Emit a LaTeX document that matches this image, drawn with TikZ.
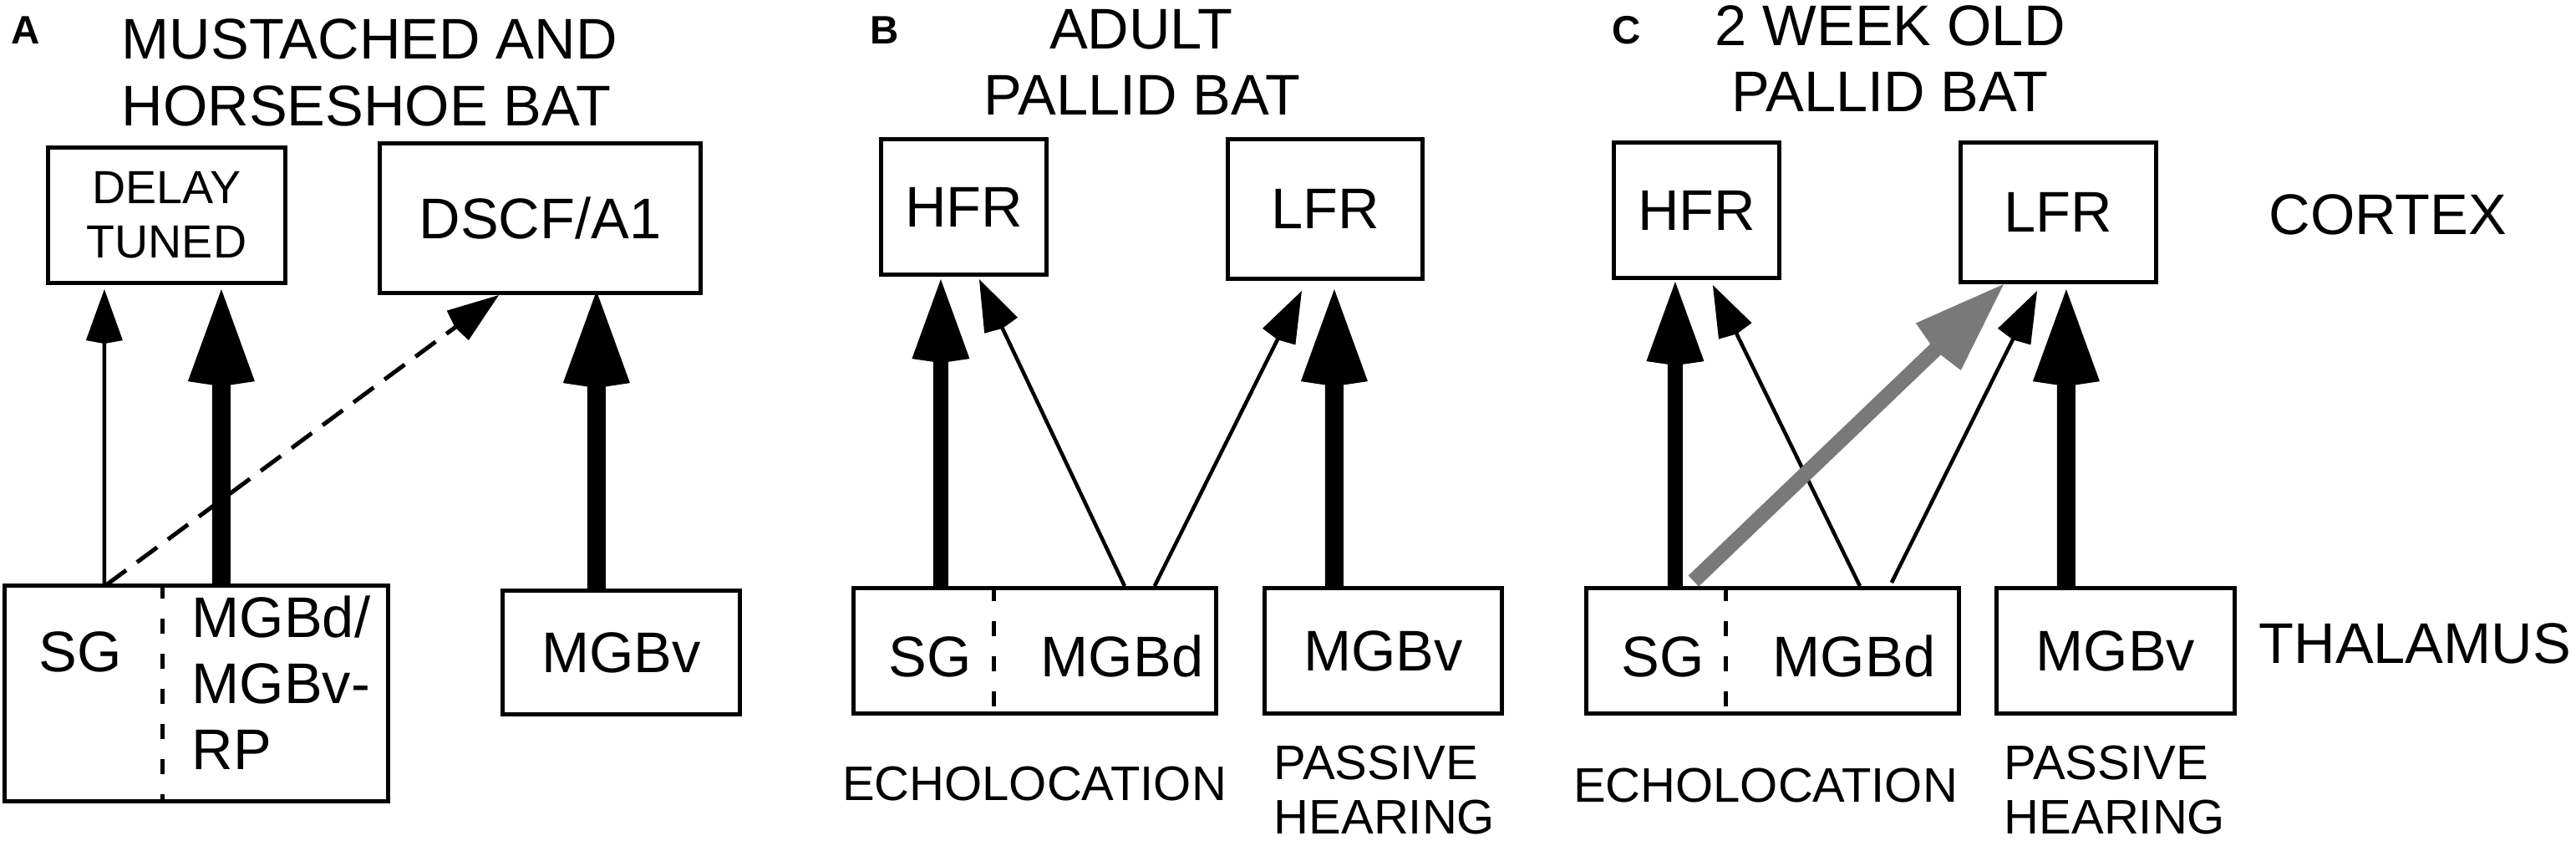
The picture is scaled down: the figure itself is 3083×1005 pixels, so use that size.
\documentclass[tikz,border=0pt]{standalone}
\usepackage{fontspec}
\setmainfont{Liberation Sans}
\usetikzlibrary{arrows.meta,calc}
\definecolor{devgray}{HTML}{797979}

\begin{document}
\begin{tikzpicture}[x=0.01cm,y=-0.01cm,
    box/.style={draw,line width=0.055cm,inner sep=0pt,font=\fontsize{19.5}{22.5}\selectfont},
    lbl/.style={inner sep=0pt,font=\fontsize{19.5}{22.5}\selectfont},
    small/.style={inner sep=0pt,font=\fontsize{16.5}{19}\selectfont},
    panel/.style={inner sep=0pt,font=\fontsize{13.5}{16}\selectfont\bfseries},
    weakarrow/.style={line width=0.045cm,-{Kite[length=0.65cm,width=0.44cm,inset=0.04cm,line width=0pt]}},
    strongarrow/.style={line width=0.22cm,-{Kite[length=1.16cm,width=0.80cm,inset=0.06cm,line width=0pt]}},
    hfrarrow/.style={line width=0.18cm,-{Kite[length=1.0cm,width=0.69cm,inset=0.05cm,line width=0pt]}},
    newarrow/.style={devgray,line width=0.18cm,-{Kite[length=1.14cm,width=0.78cm,inset=0.06cm,line width=0pt]}},
    dasharrow/.style={line width=0.05cm,dash pattern=on 0.3cm off 0.16cm,-{Kite[length=0.65cm,width=0.44cm,inset=0.04cm,line width=0pt]}},
    divider/.style={line width=0.05cm,dash pattern=on 0.18cm off 0.24cm}]
	\useasboundingbox (0,0) rectangle (3083,1005);

	%A
	\node[panel,anchor=base west] (labA) at (13,52) {A};
	\node[lbl,anchor=base west] (titA1) at (145,70) {MUSTACHED AND};
	\node[lbl,anchor=base west] (titA2) at (145,150) {HORSESHOE BAT};

	\node[box,minimum width=2.835cm,minimum height=1.615cm,align=center,font=\fontsize{15.8}{18.5}\selectfont] (dtA) at (199.5,257.5) {DELAY\\TUNED};
	\node[box,minimum width=3.835cm,minimum height=1.785cm] (dscfA) at (646.5,261) {DSCF/A1};
	\node[box,minimum width=4.585cm,minimum height=2.575cm] (thalA) at (235,829.5) {};
	\node[box,minimum width=2.835cm,minimum height=1.475cm] (mgbvA) at (743.5,780.5) {MGBv};

	\node[lbl,anchor=base] (sgA) at (96,803) {SG};
	\node[lbl,anchor=base west] (mgbdA1) at (229,762) {MGBd/};
	\node[lbl,anchor=base west] (mgbdA2) at (229,841) {MGBv-};
	\node[lbl,anchor=base west] (mgbdA3) at (229,920) {RP};

	\draw[divider] ($(thalA.north west)+(192,0)$) -- ($(thalA.south west)+(192,0)$);

	\draw[weakarrow] ($(thalA.north west)+(122,0)$) -- ($(dtA.south west)+(70,5)$);
	\draw[strongarrow] ($(thalA.north west)+(262,0)$) -- ($(dtA.south west)+(210,5)$);
	\draw[dasharrow] ($(thalA.north west)+(124,2)$) -- ($(dscfA.south west)+(145,0)$);
	\draw[strongarrow] ($(mgbvA.north west)+(115,0)$) -- ($(dscfA.south west)+(262,-5)$);

	%B
	\node[panel,anchor=base west] (labB) at (1041,52) {B};
	\node[lbl,anchor=base] (titB1) at (1366,58) {ADULT};
	\node[lbl,anchor=base] (titB2) at (1367,137) {PALLID BAT};

	\node[box,minimum width=1.975cm,minimum height=1.615cm] (hfrB) at (1153.5,247.5) {HFR};
	\node[box,minimum width=2.325cm,minimum height=1.665cm] (lfrB) at (1586,250) {LFR};
	\node[box,minimum width=4.335cm,minimum height=1.495cm] (thalB) at (1238.5,778.5) {};
	\node[box,minimum width=2.835cm,minimum height=1.495cm] (mgbvB) at (1655.5,778.5) {MGBv};

	\node[lbl,anchor=base] (sgB) at (1113,809) {SG};
	\node[lbl,anchor=base] (mgbdB) at (1343,809) {MGBd};
	\node[small,anchor=base] (echoB) at (1238,957) {ECHOLOCATION};
	\node[small,anchor=base west] (pasB1) at (1524,932) {PASSIVE};
	\node[small,anchor=base west] (pasB2) at (1524,997) {HEARING};

	\draw[divider] ($(thalB.north west)+(171,0)$) -- ($(thalB.south west)+(171,0)$);

	\draw[hfrarrow] ($(thalB.north west)+(107,0)$) -- ($(hfrB.south west)+(74,3)$);
	\draw[weakarrow] ($(thalB.north west)+(327,0)$) -- ($(hfrB.south west)+(120,3)$);
	\draw[weakarrow] ($(thalB.north west)+(363,0)$) -- ($(lfrB.south west)+(91,12)$);
	\draw[strongarrow] ($(mgbvB.north west)+(86,0)$) -- ($(lfrB.south west)+(130,10)$);

	%C
	\node[panel,anchor=base west] (labC) at (1929,52) {C};
	\node[lbl,anchor=base] (titC1) at (2262,54) {2 WEEK OLD};
	\node[lbl,anchor=base] (titC2) at (2262,133) {PALLID BAT};

	\node[box,minimum width=1.975cm,minimum height=1.615cm] (hfrC) at (2030.5,251.5) {HFR};
	\node[box,minimum width=2.335cm,minimum height=1.665cm] (lfrC) at (2463.5,254) {LFR};
	\node[box,minimum width=4.455cm,minimum height=1.495cm] (thalC) at (2121.5,778.5) {};
	\node[box,minimum width=2.845cm,minimum height=1.495cm] (mgbvC) at (2532,778.5) {MGBv};

	\node[lbl,anchor=base] (sgC) at (1990,809) {SG};
	\node[lbl,anchor=base] (mgbdC) at (2219,809) {MGBd};
	\node[small,anchor=base] (echoC) at (2113,959) {ECHOLOCATION};
	\node[small,anchor=base west] (pasC1) at (2398,932) {PASSIVE};
	\node[small,anchor=base west] (pasC2) at (2398,997) {HEARING};

	\node[lbl,anchor=base west] (cortex) at (2715,280) {CORTEX};
	\node[lbl,anchor=base west] (thalamus) at (2703,793) {THALAMUS};

	\draw[divider] ($(thalC.north west)+(170,0)$) -- ($(thalC.south west)+(170,0)$);

	\draw[hfrarrow] ($(thalC.north west)+(109,0)$) -- ($(hfrC.south west)+(76,2)$);
	\draw[weakarrow] ($(thalC.north west)+(330,0)$) -- ($(hfrC.south west)+(121,6)$);
	\draw[weakarrow] ($(thalC.north west)+(368,-4)$) -- ($(lfrC.south west)+(94,8)$);
	\draw[strongarrow] ($(mgbvC.north west)+(86,0)$) -- ($(lfrC.south west)+(129,6)$);
	\draw[newarrow] ($(thalC.north west)+(131,-6)$) -- ($(lfrC.south west)+(54,0)$);

\end{tikzpicture}
\end{document}
